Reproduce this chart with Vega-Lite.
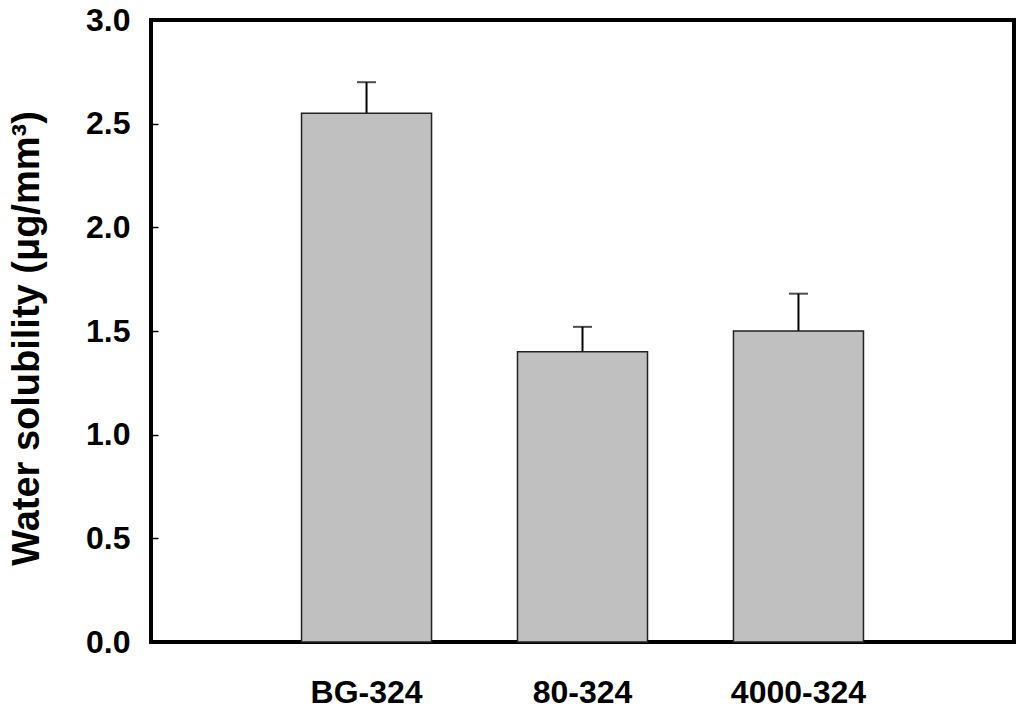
{
  "$schema": "https://vega.github.io/schema/vega-lite/v6.json",
  "autosize": "none",
  "width": 863,
  "height": 622,
  "padding": {"left": 151, "top": 20, "right": 10, "bottom": 68},
  "background": "white",
  "config": {
    "view": {"stroke": "black", "strokeWidth": 4},
    "font": "Liberation Sans",
    "axis": {"labelFont": "Liberation Sans", "titleFont": "Liberation Sans"}
  },
  "data": {
    "values": [
      {"sample": "BG-324", "mean": 2.55, "upper": 2.70},
      {"sample": "80-324", "mean": 1.40, "upper": 1.52},
      {"sample": "4000-324", "mean": 1.50, "upper": 1.68}
    ]
  },
  "encoding": {
    "x": {
      "field": "sample",
      "type": "nominal",
      "sort": null,
      "scale": {"paddingInner": 0.398, "paddingOuter": 0.697},
      "axis": {
        "title": null,
        "labelAngle": 0,
        "labelFontSize": 32,
        "labelFontWeight": "bold",
        "labelColor": "black",
        "ticks": false,
        "domain": false,
        "labelPadding": 35
      }
    }
  },
  "layer": [
    {
      "mark": {"type": "rule", "color": "black", "strokeWidth": 2},
      "encoding": {
        "y": {"field": "mean", "type": "quantitative"},
        "y2": {"field": "upper"}
      }
    },
    {
      "mark": {"type": "tick", "color": "black", "size": 19, "thickness": 2, "orient": "horizontal"},
      "encoding": {
        "y": {"field": "upper", "type": "quantitative"}
      }
    },
    {
      "mark": {"type": "bar", "color": "#c0c0c0", "stroke": "#222222", "strokeWidth": 1.5},
      "encoding": {
        "y": {
          "field": "mean",
          "type": "quantitative",
          "scale": {"domain": [0, 3], "nice": false},
          "axis": {
            "title": "Water solubility (μg/mm³)",
            "titleFontSize": 38,
            "titleFontWeight": "bold",
            "titleColor": "black",
            "titlePadding": 39,
            "titleY": 318,
            "values": [0, 0.5, 1, 1.5, 2, 2.5, 3],
            "format": ".1f",
            "labelFontSize": 32,
            "labelFontWeight": "bold",
            "labelColor": "black",
            "labelPadding": 28,
            "tickSize": -7,
            "tickColor": "black",
            "tickWidth": 1.5,
            "domain": false,
            "grid": false
          }
        }
      }
    }
  ]
}
